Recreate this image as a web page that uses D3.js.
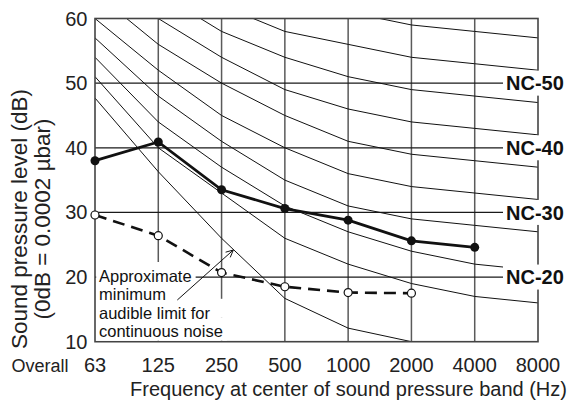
<!DOCTYPE html>
<html>
<head>
<meta charset="utf-8">
<script src="https://cdn.jsdelivr.net/npm/d3@7"></script>
<style>
  body { margin: 0; background: #fff; }
  svg { display: block; font-family: "Liberation Sans", Arial, sans-serif; }
</style>
</head>
<body>
<svg id="chart" width="573" height="401"></svg>
<script>
// Octave-band centre frequencies (Hz)
const bands = ["63", "125", "250", "500", "1000", "2000", "4000", "8000"];
const yTicks = [10, 20, 30, 40, 50, 60];

// Noise-criterion curves, band levels in dB for each octave band
const nc20 = [51, 40, 33, 26, 22, 19, 17, 16];
const nc25 = [54, 44, 37, 31, 27, 24, 22, 21];
const nc30 = [57, 48, 41, 35, 31, 29, 28, 27];
const nc35 = [60, 52, 45, 40, 36, 34, 33, 32];
const nc40 = [64, 56, 50, 45, 41, 39, 38, 37];
const nc45 = [67, 60, 54, 49, 46, 44, 43, 42];
const nc50 = [71, 64, 58, 54, 51, 49, 48, 47];
const nc55 = [74, 67, 62, 58, 56, 54, 53, 52];
const nc60 = [77, 71, 67, 63, 61, 59, 58, 57];

const ncLabelLevels = [50, 40, 30, 20];
const ncLabels = ["NC-50", "NC-40", "NC-30", "NC-20"];

// Measured spectra (63 Hz upward)
const measuredSpectrum = [38.0, 40.9, 33.5, 30.6, 28.8, 25.6, 24.6];
const quietSpectrum = [29.6, 26.4, 20.7, 18.5, 17.6, 17.5];

// Approximate minimum audible limit for continuous noise (63 Hz upward)
const audibleLimit = [47.7, 36.3, 26.0, 16.7, 12.1, 10.0];

const noteLines = ["Approximate", "minimum", "audible limit for", "continuous noise"];

const ncCurves = [nc20, nc25, nc30, nc35, nc40, nc45, nc50, nc55, nc60];

const svg = d3.select("#chart");
const L = 95, R = 538, T = 18.5, B = 341.7;

const x = d3.scalePoint().domain(bands).range([L, R]);
const y = d3.scaleLinear().domain([10, 60]).range([B, T]);

const toPoints = vals => vals.map((v, i) => [x(bands[i]), y(v)]);
const line = d3.line();

svg.append("clipPath").attr("id", "plot")
  .append("rect").attr("x", L).attr("y", T).attr("width", R - L).attr("height", B - T);

// Grid
svg.append("g").selectAll("line")
  .data(bands.slice(1, -1)).join("line")
  .attr("x1", d => x(d)).attr("x2", d => x(d))
  .attr("y1", T).attr("y2", B)
  .attr("stroke", "#5a5a5a").attr("stroke-width", 1.5);

svg.append("g").selectAll("line")
  .data(yTicks.slice(1, -1)).join("line")
  .attr("x1", L).attr("x2", R)
  .attr("y1", d => y(d)).attr("y2", d => y(d))
  .attr("stroke", "#1a1a1a").attr("stroke-width", 1.2);

// NC curves and audible limit
const curves = svg.append("g").attr("clip-path", "url(#plot)");
curves.selectAll("path.nc")
  .data(ncCurves).join("path").attr("class", "nc")
  .attr("d", d => line(toPoints(d)))
  .attr("fill", "none").attr("stroke", "#111").attr("stroke-width", 1);
curves.append("path")
  .attr("d", line(toPoints(audibleLimit)))
  .attr("fill", "none").attr("stroke", "#111").attr("stroke-width", 1);

// Frame
svg.append("rect")
  .attr("x", L).attr("y", T).attr("width", R - L).attr("height", B - T)
  .attr("fill", "none").attr("stroke", "#444").attr("stroke-width", 1.6);

// NC labels on the right
const ncG = svg.append("g");
ncLabelLevels.forEach((lv, i) => {
  ncG.append("rect")
    .attr("x", 503).attr("y", y(lv) - 12.5).attr("width", 70).attr("height", 25)
    .attr("fill", "#fff");
  ncG.append("text")
    .attr("x", 506).attr("y", y(lv) + 7.3)
    .attr("font-size", 20).attr("font-weight", "bold").attr("fill", "#111")
    .text(ncLabels[i]);
});

// Note with backing boxes
const noteG = svg.append("g");
const noteBase = 282, noteStep = 18.4, noteX = 99;
const noteTexts = noteLines.map((t, i) =>
  noteG.append("text")
    .attr("x", noteX).attr("y", noteBase + i * noteStep)
    .attr("font-size", 16.5).attr("fill", "#111").text(t));
const widths = noteTexts.map(t => t.node().getComputedTextLength());
const sharedW = Math.max(widths[2], widths[3]);
noteLines.forEach((t, i) => {
  const w = i >= 2 ? sharedW : widths[i];
  const top = noteBase + i * noteStep - 20;
  const h = i === noteLines.length - 1 ? (B - 1) - top : noteStep;
  noteG.insert("rect", "text")
    .attr("x", L + 1.2).attr("y", top).attr("width", noteX - L - 1.2 + w + 4).attr("height", h)
    .attr("fill", "#fff");
});

// Arrow from the note to the audible-limit curve
const ax0 = 177.3, ay0 = 300, ax1 = 233.3, ay1 = 250;
const ang = Math.atan2(ay1 - ay0, ax1 - ax0);
const head = 8, spread = 0.45;
noteG.append("path")
  .attr("d",
    `M${ax0},${ay0}L${ax1},${ay1}` +
    `M${ax1 - head * Math.cos(ang - spread)},${ay1 - head * Math.sin(ang - spread)}L${ax1},${ay1}` +
    `L${ax1 - head * Math.cos(ang + spread)},${ay1 - head * Math.sin(ang + spread)}`)
  .attr("fill", "none").attr("stroke", "#111").attr("stroke-width", 1);

// Spectra
svg.append("path")
  .attr("d", line(toPoints(quietSpectrum)))
  .attr("fill", "none").attr("stroke", "#111").attr("stroke-width", 2.6)
  .attr("stroke-dasharray", "12,7");
svg.append("g").selectAll("circle")
  .data(toPoints(quietSpectrum)).join("circle")
  .attr("cx", d => d[0]).attr("cy", d => d[1]).attr("r", 4)
  .attr("fill", "#fff").attr("stroke", "#111").attr("stroke-width", 1.2);

svg.append("path")
  .attr("d", line(toPoints(measuredSpectrum)))
  .attr("fill", "none").attr("stroke", "#111").attr("stroke-width", 2.8);
svg.append("g").selectAll("circle")
  .data(toPoints(measuredSpectrum)).join("circle")
  .attr("cx", d => d[0]).attr("cy", d => d[1]).attr("r", 4.5)
  .attr("fill", "#111");

// Axis labels
svg.append("g").selectAll("text")
  .data(yTicks).join("text")
  .attr("x", 87.5).attr("y", d => y(d) + 7)
  .attr("text-anchor", "end").attr("font-size", 20).attr("fill", "#222")
  .text(d => d);

svg.append("g").selectAll("text")
  .data(bands).join("text")
  .attr("x", d => x(d)).attr("y", 371.7)
  .attr("text-anchor", "middle").attr("font-size", 20).attr("fill", "#222")
  .text(d => d);

svg.append("text")
  .attr("x", 11.5).attr("y", 371.7)
  .attr("font-size", 18).attr("fill", "#222").text("Overall");

svg.append("text")
  .attr("x", 348.5).attr("y", 396)
  .attr("text-anchor", "middle").attr("font-size", 20).attr("fill", "#222")
  .text("Frequency at center of sound pressure band (Hz)");

const yTitle = svg.append("g").attr("transform", "translate(0,219) rotate(-90)");
yTitle.append("text")
  .attr("x", 0).attr("y", 27)
  .attr("text-anchor", "middle").attr("font-size", 22.5).attr("fill", "#222")
  .text("Sound pressure level (dB)");
yTitle.append("text")
  .attr("x", 0).attr("y", 50)
  .attr("text-anchor", "middle").attr("font-size", 22.5).attr("fill", "#222")
  .text("(0dB = 0.0002 \u00b5bar)");
</script>
</body>
</html>
